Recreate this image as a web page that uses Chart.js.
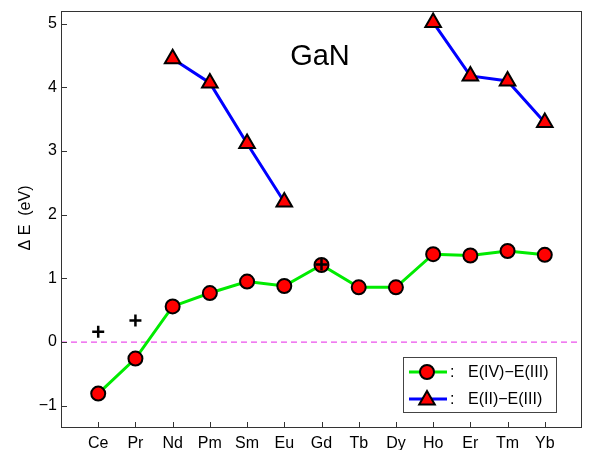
<!DOCTYPE html>
<html>
<head>
<meta charset="utf-8">
<script src="https://cdn.jsdelivr.net/npm/chart.js@4.4.0/dist/chart.umd.min.js"></script>
<style>
  html, body { margin: 0; padding: 0; background: #fff; }
  #wrap { width: 593px; height: 450px; }
</style>
</head>
<body>
<div id="wrap"><canvas id="chart"></canvas></div>
<script>
// Lanthanide dopants along the x axis
const categories = ['Ce', 'Pr', 'Nd', 'Pm', 'Sm', 'Eu', 'Gd', 'Tb', 'Dy', 'Ho', 'Er', 'Tm', 'Yb'];

// E(IV)-E(III), green line with circles
const e43 = [-0.81, -0.26, 0.56, 0.77, 0.95, 0.88, 1.21, 0.86, 0.86, 1.38, 1.36, 1.43, 1.37];
// E(II)-E(III), blue line with triangles (only some dopants)
const e23 = [null, null, 4.45, 4.07, 3.12, 2.20, null, null, null, 5.02, 4.18, 4.10, 3.45];
// extra '+' markers
const plusVals = [0.16, 0.34, null, null, null, null, 1.22, null, null, null, null, null, null];

const yTicks = [-1, 0, 1, 2, 3, 4, 5];
const legendLabels = ['E(IV)\u2212E(III)', 'E(II)\u2212E(III)'];

const FONT = 'Liberation Sans, Arial, Helvetica, sans-serif';

const toPoints = vals => vals.map((v, i) => ({ x: i, y: v }));

// frame, inward ticks, title text, y label and the legend box
const decorations = {
  id: 'decorations',
  afterDatasetsDraw(chart) {
    const { ctx, chartArea: a, scales: { x, y } } = chart;
    ctx.save();
    ctx.strokeStyle = '#333';
    ctx.lineWidth = 1;
    ctx.strokeRect(a.left + 0.5, a.top + 0.5, a.right - a.left - 1, a.bottom - a.top - 1);

    // inward ticks
    ctx.beginPath();
    categories.forEach((c, i) => {
      const px = Math.round(x.getPixelForValue(i)) + 0.5;
      ctx.moveTo(px, a.bottom);
      ctx.lineTo(px, a.bottom - 6);
    });
    yTicks.forEach(t => {
      const py = Math.round(y.getPixelForValue(t)) + 0.5;
      ctx.moveTo(a.left, py);
      ctx.lineTo(a.left + 6, py);
    });
    ctx.stroke();

    // "GaN" label inside the plot
    ctx.fillStyle = '#000';
    ctx.font = '29px ' + FONT;
    ctx.textAlign = 'center';
    ctx.textBaseline = 'alphabetic';
    ctx.fillText('GaN', 320, 65);

    // y axis title
    ctx.save();
    ctx.translate(26, 218);
    ctx.rotate(-Math.PI / 2);
    ctx.font = '16px ' + FONT;
    ctx.textBaseline = 'middle';
    ctx.fillText('\u0394 E  (eV)', 0, 0);
    ctx.restore();

    // legend
    const bx = 403, by = 357, bw = 153, bh = 55;
    ctx.fillStyle = '#fff';
    ctx.fillRect(bx, by, bw, bh);
    ctx.strokeStyle = '#444';
    ctx.strokeRect(bx + 0.5, by + 0.5, bw, bh);
    const rows = [
      { y: 372, color: 'rgb(0,235,0)', ds: chart.data.datasets[0] },
      { y: 399, color: 'rgb(0,0,255)', ds: chart.data.datasets[1] }
    ];
    rows.forEach((r, k) => {
      ctx.strokeStyle = r.color;
      ctx.lineWidth = 3;
      ctx.beginPath();
      ctx.moveTo(409, r.y);
      ctx.lineTo(447, r.y);
      ctx.stroke();
      ctx.fillStyle = 'red';
      ctx.strokeStyle = '#000';
      ctx.lineWidth = 2;
      Chart.helpers.drawPoint(ctx, {
        pointStyle: r.ds.pointStyle,
        radius: r.ds.pointRadius,
        borderWidth: 2,
        rotation: 0
      }, 427, r.y + (k === 1 ? 1 : 0));
      ctx.fillStyle = '#000';
      ctx.font = '16px ' + FONT;
      ctx.textAlign = 'left';
      ctx.textBaseline = 'middle';
      ctx.fillText(':', 450, r.y + 1);
      ctx.fillText(legendLabels[k], 468, r.y + 1);
    });
    ctx.restore();
  }
};

new Chart(document.getElementById('chart'), {
  type: 'line',
  data: {
    datasets: [
      {
        label: legendLabels[0],
        data: toPoints(e43),
        borderColor: 'rgb(0,235,0)',
        borderWidth: 3,
        pointStyle: 'circle',
        pointRadius: 7,
        pointBackgroundColor: 'red',
        pointBorderColor: '#000',
        pointBorderWidth: 2,
        tension: 0,
        order: 2
      },
      {
        label: legendLabels[1],
        data: toPoints(e23),
        borderColor: 'rgb(0,0,255)',
        borderWidth: 3,
        pointStyle: 'triangle',
        pointRadius: 9,
        pointBackgroundColor: 'red',
        pointBorderColor: '#000',
        pointBorderWidth: 2,
        spanGaps: false,
        tension: 0,
        order: 2
      },
      {
        label: 'plus',
        data: toPoints(plusVals),
        showLine: false,
        pointStyle: 'cross',
        pointRadius: 6,
        pointBorderColor: '#000',
        pointBorderWidth: 2.5,
        order: 1
      },
      {
        label: 'zero',
        data: [{ x: -1, y: 0 }, { x: 13, y: 0 }],
        borderColor: 'rgb(235,80,235)',
        borderWidth: 1.2,
        borderDash: [6, 4],
        pointRadius: 0,
        order: 3
      }
    ]
  },
  options: {
    responsive: true,
    maintainAspectRatio: false,
    animation: false,
    layout: { padding: { top: 9, right: -1, left: 0, bottom: 0 } },
    plugins: {
      legend: { display: false },
      tooltip: { enabled: false }
    },
    scales: {
      x: {
        type: 'linear',
        min: -1,
        max: 13,
        afterBuildTicks: s => { s.ticks = categories.map((c, i) => ({ value: i })); },
        afterFit: s => { s.height = 22; s.paddingLeft = 0; s.paddingRight = 0; },
        grid: { display: false, drawTicks: false },
        border: { display: false },
        ticks: {
          autoSkip: false,
          maxRotation: 0,
          padding: 6,
          color: '#000',
          font: { family: FONT, size: 16 },
          callback: v => categories[v]
        }
      },
      y: {
        min: -1.35,
        max: 5.2,
        afterBuildTicks: s => { s.ticks = yTicks.map(v => ({ value: v })); },
        afterFit: s => { s.width = 61; s.paddingTop = 0; s.paddingBottom = 0; },
        grid: { display: false, drawTicks: false },
        border: { display: false },
        ticks: {
          padding: 4,
          color: '#000',
          font: { family: FONT, size: 16 },
          callback: v => (v < 0 ? '\u2212' + Math.abs(v) : String(v))
        }
      }
    }
  },
  plugins: [decorations]
});
</script>
</body>
</html>
